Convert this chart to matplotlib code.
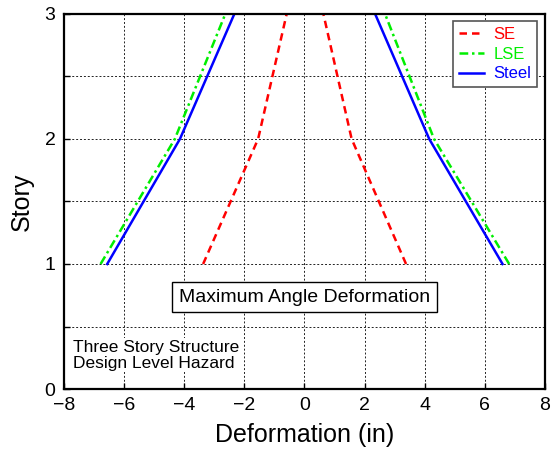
import numpy as np
import matplotlib.pyplot as plt

plt.rcParams['font.family'] = ['Liberation Sans', 'DejaVu Sans']

# story levels and peak deformations (in), negative / positive excursions
story = [1, 2, 3]
se_neg = [-3.37, -1.54, -0.59]
se_pos = [3.38, 1.57, 0.63]
lse_neg = [-6.78, -4.31, -2.63]
lse_pos = [6.81, 4.31, 2.68]
steel_neg = [-6.56, -4.14, -2.33]
steel_pos = [6.59, 4.15, 2.35]

series = [
    ("SE", se_neg, se_pos, "#ff0000", (0, (3, 2))),
    ("LSE", lse_neg, lse_pos, "#00ee00", (0, (3.5, 1.5, 1, 1.5))),
    ("Steel", steel_neg, steel_pos, "#0000ff", "-"),
]

fig = plt.figure(figsize=(5.51, 4.61), dpi=100)
ax = fig.add_axes([0.116, 0.156, 0.873, 0.814])

handles = []
for name, neg, pos, col, ls in series:
    h, = ax.plot(neg, story, color=col, linestyle=ls, lw=1.8, label=name)
    ax.plot(pos, story, color=col, linestyle=ls, lw=1.8)
    handles.append(h)

ax.set_xlim(-8, 8)
ax.set_ylim(0, 3)
ax.set_xticks(np.arange(-8, 9, 2))
ax.set_yticks([0, 1, 2, 3])
ax.set_yticks([0.5, 1.5, 2.5], minor=True)
ax.tick_params(which='both', direction='in', length=4, width=1,
               labelsize=14, pad=6)
ax.grid(True, which='both', color='#222222', linestyle=(0, (2, 2)), lw=0.7)
for s in ax.spines.values():
    s.set_linewidth(1.6)

ax.set_xlabel("Deformation (in)", fontsize=18, labelpad=6)
ax.set_ylabel("Story", fontsize=18, labelpad=8)

leg = ax.legend(handles=handles, loc='upper right', fontsize=12,
                handlelength=1.5, handletextpad=0.6, borderpad=0.35,
                labelspacing=0.28, fancybox=False, framealpha=1,
                borderaxespad=0.45)
leg.get_frame().set_edgecolor('#555555')
leg.get_frame().set_linewidth(1.2)
for txt, (_, _, _, col, _) in zip(leg.get_texts(), series):
    txt.set_color(col)

ax.text(0, 0.735, "Maximum Angle Deformation", ha='center', va='center',
        fontsize=14, zorder=5,
        bbox=dict(boxstyle='square,pad=0.35', fc='white', ec='black', lw=1))
ax.text(-7.7, 0.27, "Three Story Structure\nDesign Level Hazard",
        ha='left', va='center', fontsize=12.5, linespacing=1.05,
        bbox=dict(boxstyle='square,pad=0.1', fc='white', ec='none'), zorder=5)

fig.savefig("out.png", dpi=100)
